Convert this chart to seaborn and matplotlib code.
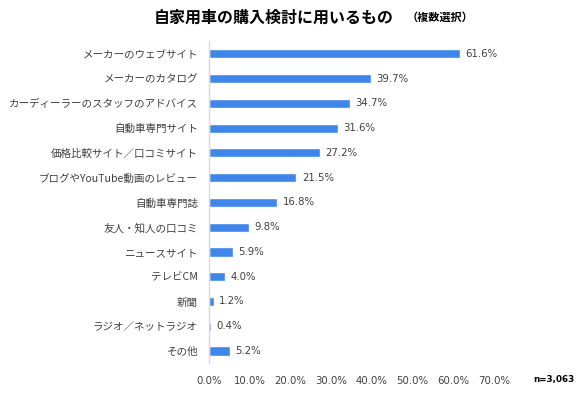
import matplotlib
matplotlib.use("Agg")
import matplotlib.pyplot as plt
import pandas as pd
import seaborn as sns

categories = [
    "メーカーのウェブサイト", "メーカーのカタログ", "カーディーラーのスタッフのアドバイス",
    "自動車専門サイト", "価格比較サイト／口コミサイト", "ブログやYouTube動画のレビュー",
    "自動車専門誌", "友人・知人の口コミ", "ニュースサイト", "テレビCM", "新聞",
    "ラジオ／ネットラジオ", "その他",
]
values = [61.6, 39.7, 34.7, 31.6, 27.2, 21.5, 16.8, 9.8, 5.9, 4.0, 1.2, 0.4, 5.2]
xticks = [0, 10, 20, 30, 40, 50, 60, 70]

sns.set_theme(style="white")
plt.rcParams["font.family"] = ["Noto Sans CJK JP", "DejaVu Sans"]
NUM_FONT = ["DejaVu Sans"]

df = pd.DataFrame({"item": categories, "pct": values})

fig = plt.figure(figsize=(5.83, 3.95), dpi=100)
ax = fig.add_axes([0.3585, 0.080, 0.4885, 0.815])
sns.barplot(data=df, x="pct", y="item", color="#3F86EA", width=0.37,
            saturation=1, ax=ax)
ax.set_xlim(0, 70)
ax.set_ylim(12.5, -0.5)
ax.set_xticks(xticks)
ax.set_xticklabels([f"{t:.1f}%" for t in xticks], fontsize=7.3, color="#404040",
                   family=NUM_FONT)
ax.tick_params(axis="x", length=0, pad=9)
ax.tick_params(axis="y", length=0, pad=8, labelsize=7.6, labelcolor="#404040")
ax.set_xlabel(""); ax.set_ylabel("")
for s in ["top", "right", "bottom"]:
    ax.spines[s].set_visible(False)
ax.spines["left"].set_color("#D9D9D9")
ax.spines["left"].set_linewidth(1)

for i, v in enumerate(values):
    ax.text(v + 1.3, i, f"{v:.1f}%", va="center", ha="left", fontsize=7.3,
            color="#404040", family=NUM_FONT)

fig.text(0.47, 0.955, "自家用車の購入検討に用いるもの", ha="center", va="center",
         fontsize=11.5, fontweight="bold", color="#000000")
fig.text(0.755, 0.955, "（複数選択）", ha="center", va="center",
         fontsize=8, fontweight="bold", color="#000000")
fig.text(0.985, 0.04, "n=3,063", ha="right", va="center", fontsize=6.3,
         fontweight="bold", color="#000000", family=NUM_FONT)

fig.savefig("out.png", dpi=100)
